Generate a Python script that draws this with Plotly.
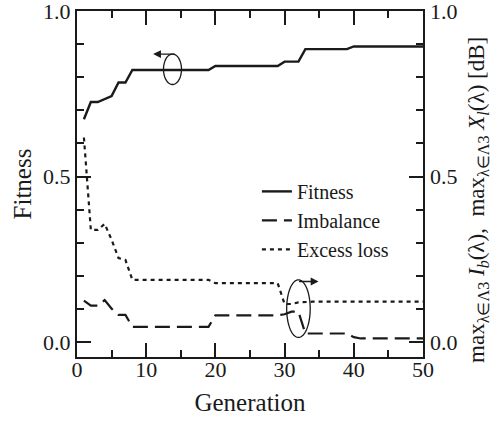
import plotly.graph_objects as go
import numpy as np

generation = list(range(1, 51))
fitness = [0.673, 0.725, 0.725, 0.734, 0.743, 0.784, 0.784,
           0.822, 0.822, 0.822, 0.822, 0.822, 0.822, 0.822, 0.822, 0.822, 0.822, 0.822, 0.822,
           0.834, 0.834, 0.834, 0.834, 0.834, 0.834, 0.834, 0.834, 0.834, 0.834,
           0.847, 0.847, 0.847,
           0.885, 0.885, 0.885, 0.885, 0.885, 0.885, 0.885,
           0.893, 0.893, 0.893, 0.893, 0.893, 0.893, 0.893, 0.893, 0.893, 0.893, 0.893]
imbalance = [0.125, 0.110, 0.110, 0.127, 0.101, 0.082, 0.082,
             0.046, 0.046, 0.046, 0.046, 0.046, 0.046, 0.046, 0.046, 0.046, 0.046, 0.046, 0.046,
             0.081, 0.081, 0.081, 0.081, 0.081, 0.081, 0.081, 0.081, 0.081, 0.081,
             0.084, 0.092, 0.092,
             0.026, 0.026, 0.026, 0.026, 0.026, 0.026, 0.026,
             0.015, 0.011, 0.011, 0.011, 0.011, 0.011, 0.011, 0.011, 0.011, 0.011, 0.011]
excess_loss = [0.618, 0.339, 0.339, 0.357, 0.309, 0.254, 0.248,
               0.188, 0.188, 0.188, 0.188, 0.188, 0.188, 0.188, 0.188, 0.188, 0.188, 0.188, 0.188,
               0.178, 0.178, 0.178, 0.178, 0.178, 0.178, 0.178, 0.178, 0.178, 0.178,
               0.115, 0.115, 0.120,
               0.122, 0.122, 0.122, 0.122, 0.122, 0.122, 0.122, 0.122, 0.122,
               0.122, 0.122, 0.122, 0.122, 0.122, 0.122, 0.122, 0.122, 0.122]
x_ticks = [0, 10, 20, 30, 40, 50]
y_ticks = [0.0, 0.5, 1.0]
y_ticklabels = ["0.0", "0.5", "1.0"]
right_title = "max<sub>λ∈Λ3</sub> <i>I<sub>b</sub></i>(λ),  max<sub>λ∈Λ3</sub> <i>X<sub>l</sub></i>(λ) [dB]"

FONT = "Liberation Serif"
INK = "#1a1a1a"

fig = go.Figure()
fig.add_trace(go.Scatter(x=generation, y=fitness, name="Fitness", mode="lines",
                         line=dict(color=INK, width=2.4)))
fig.add_trace(go.Scatter(x=generation, y=imbalance, name="Imbalance", mode="lines",
                         line=dict(color=INK, width=2.2, dash="15px,7px")))
fig.add_trace(go.Scatter(x=generation, y=excess_loss, name="Excess loss", mode="lines",
                         line=dict(color=INK, width=2.2, dash="4px,4px")))

fig.update_layout(
    width=502, height=421,
    margin=dict(l=77, r=79, t=11, b=64),
    paper_bgcolor="white", plot_bgcolor="white",
    font=dict(family=FONT, color=INK),
    showlegend=True,
    legend=dict(x=0.52, y=0.535, xanchor="left", yanchor="top",
                bgcolor="rgba(0,0,0,0)", font=dict(family=FONT, size=20, color=INK),
                tracegroupgap=0),
    xaxis=dict(range=[0, 50], tickvals=x_ticks, ticks="inside", ticklen=14, tickwidth=1.5,
               tickcolor=INK, showline=True, linecolor=INK, linewidth=2, mirror="allticks",
               showgrid=False, zeroline=False, automargin=False,
               minor=dict(dtick=5, tick0=0, ticks="inside", ticklen=7, tickwidth=1.5,
                          tickcolor=INK, showgrid=False),
               ticklabelstandoff=-8,
               tickfont=dict(family=FONT, size=22, color=INK),
               title=dict(text="Generation", font=dict(family=FONT, size=25, color=INK), standoff=12)),
    yaxis=dict(range=[-0.045, 1.0], tickvals=y_ticks, tickformat=".1f", ticks="inside",
               ticklen=14, tickwidth=1.5, tickcolor=INK, showline=True, linecolor=INK,
               linewidth=2, mirror="allticks", showgrid=False, zeroline=False, automargin=False,
               ticklabeloverflow="allow",
               minor=dict(dtick=0.1, tick0=0, ticks="inside", ticklen=7, tickwidth=1.5,
                          tickcolor=INK, showgrid=False),
               tickfont=dict(family=FONT, size=22, color=INK),
               title=dict(text="Fitness", font=dict(family=FONT, size=25, color=INK), standoff=4)),
)

# right-hand axis labels and title (same scale as the left axis)
for val, lab in zip(y_ticks, y_ticklabels):
    fig.add_annotation(x=1, y=val, xref="paper", yref="y", text=lab, showarrow=False,
                       xanchor="left", yanchor="middle", xshift=5,
                       font=dict(family=FONT, size=22, color=INK))
fig.add_annotation(x=1.159, y=0.454, xref="paper", yref="paper", text=right_title,
                   showarrow=False, textangle=-90, xanchor="center", yanchor="middle",
                   font=dict(family=FONT, size=23, color=INK))

# rotation symbols (decorations)
def ellipse_path(cx, cy, rx, ry, a0, a1, n=72):
    t = np.linspace(np.radians(a0), np.radians(a1), n)
    xs = cx + rx * np.cos(t)
    ys = cy + ry * np.sin(t)
    return "M" + " L".join(f"{x:.4f},{y:.5f}" for x, y in zip(xs, ys))

fig.add_shape(type="path", xref="x", yref="y",
              path=ellipse_path(13.8, 0.824, 1.3, 0.046, 90, 450),
              line=dict(color=INK, width=1.3))
fig.add_annotation(x=11.0, y=0.870, xref="x", yref="y", ax=23, ay=0, axref="pixel", ayref="pixel",
                   showarrow=True, arrowhead=2, arrowsize=1.2, arrowwidth=1.3, arrowcolor=INK, text="")
fig.add_shape(type="path", xref="x", yref="y",
              path=ellipse_path(32.0, 0.101, 1.7, 0.087, 90, 450),
              line=dict(color=INK, width=1.3))
fig.add_annotation(x=34.9, y=0.183, xref="x", yref="y", ax=-21, ay=0, axref="pixel", ayref="pixel",
                   showarrow=True, arrowhead=2, arrowsize=1.2, arrowwidth=1.3, arrowcolor=INK, text="")

fig.write_html("out.html")
